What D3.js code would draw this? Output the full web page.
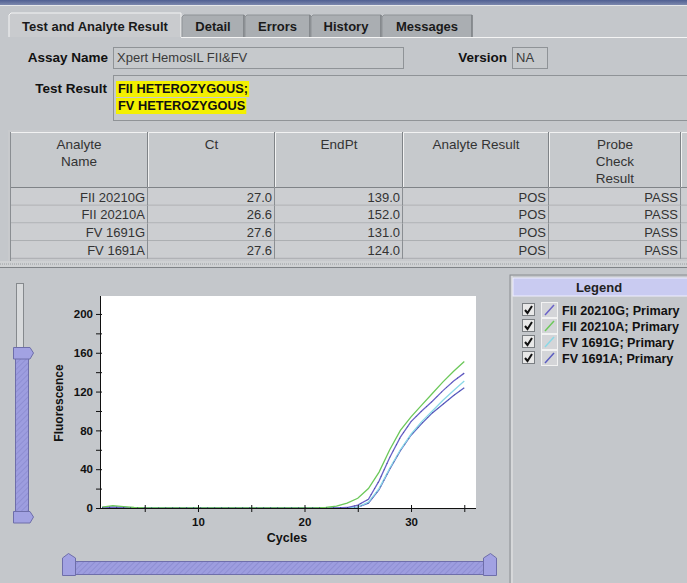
<!DOCTYPE html>
<html><head><meta charset="utf-8">
<script src="https://cdn.jsdelivr.net/npm/d3@7"></script>
<style>
body{margin:0;background:#c4c7cb;}
svg{display:block;font-family:"Liberation Sans",Arial,sans-serif;}
</style></head>
<body>
<svg id="c" width="687" height="583"></svg>
<script>
// ---------- data ----------
const tabs = ["Test and Analyte Result","Detail","Errors","History","Messages"];
const assayName = "Xpert HemosIL FII&FV";
const version = "NA";
const testResult = ["FII HETEROZYGOUS;","FV HETEROZYGOUS"];
const columns = [["Analyte","Name"],["Ct"],["EndPt"],["Analyte Result"],["Probe","Check","Result"]];
const analytes = ["FII 20210G","FII 20210A","FV 1691G","FV 1691A"];
const ctValues = ["27.0","26.6","27.6","27.6"];
const endPts = ["139.0","152.0","131.0","124.0"];
const analyteResults = ["POS","POS","POS","POS"];
const probeChecks = ["PASS","PASS","PASS","PASS"];
const legendLabels = ["FII 20210G; Primary","FII 20210A; Primary","FV 1691G; Primary","FV 1691A; Primary"];
const seriesColors = ["#6a62c8","#6cc85a","#8ad8e6","#5a5cc0"];
const cycles = d3.range(1,36);
const fii20210G = [0.5,1,0.5,0,0,-0.3,0,0,0.2,0,0,0,0,0,0,0,0,0,0,0,0,0,0,0.5,3,9,28,52,73,89,100,110,121,131,139];
const fii20210A = [1,2.5,1.5,0.5,0,0,0,0,0,0,0,0,0,0,0,0,0,0,0,0,0,0.5,2,5,10,20,37,60,80,94,106,118,130,141,151];
const fv1691G   = [0.3,0.8,0.5,0.2,0,0,0,0,0,0,0,0,0,0,0,0,0,0,0,0,0,0,0,0.3,1,6,20,41,60,76,89,100,111,121,131];
const fv1691A   = [0.2,0.5,0.3,0,0,0,-0.2,0,0,0,0,0,0,0,0,0,0,0,0,0,0,0,0,0.2,1,5,19,40,59,75,87,98,107,116,124];
const seriesData = [fii20210G, fii20210A, fv1691G, fv1691A];
const yTicks = [0,20,40,60,80,100,120,140,160,180,200];
const yLabeled = [0,40,80,120,160,200];
const xTicks = [5,10,15,20,25,30,35];
const xLabeled = [10,20,30];

// ---------- drawing ----------
const svg = d3.select("#c");
const bg = "#c4c7cb";
svg.append("rect").attr("width",687).attr("height",583).attr("fill",bg);

const defs = svg.append("defs");
const pat = defs.append("pattern").attr("id","hatch").attr("width",4).attr("height",4)
  .attr("patternUnits","userSpaceOnUse").attr("patternTransform","rotate(45)");
pat.append("rect").attr("width",4).attr("height",4).attr("fill","#9d9ddf");
pat.append("line").attr("x1",0).attr("y1",0).attr("x2",0).attr("y2",4).attr("stroke","#8a8ad0").attr("stroke-width",1.5);
const tg = defs.append("linearGradient").attr("id","topbar").attr("x1",0).attr("x2",0).attr("y1",0).attr("y2",1);
tg.append("stop").attr("offset",0).attr("stop-color","#4f5f92");
tg.append("stop").attr("offset",1).attr("stop-color","#7c88ad");

svg.append("rect").attr("x",0).attr("y",0).attr("width",687).attr("height",5).attr("fill","url(#topbar)");
svg.append("line").attr("x1",0).attr("x2",687).attr("y1",5.5).attr("y2",5.5).attr("stroke","#e6e8ea");

// tabs
const tabX = [9,182,245,311,382,473];
tabs.forEach((t,i)=>{
  const sel = i===0;
  const x0 = tabX[i], x1 = tabX[i+1]-1;
  const top = sel?13:15;
  svg.append("path").attr("d",`M${x0},37 L${x0},${top+2} L${x0+2},${top} L${x1},${top} L${x1},37`)
    .attr("fill", sel?"#c9cbce":"#aaaeb2").attr("stroke", sel?"#f4f4f4":"#8e9296");
  if(!sel) svg.append("line").attr("x1",x1).attr("x2",x1).attr("y1",top).attr("y2",37).attr("stroke","#6e7276");
  svg.append("text").attr("x",(x0+x1)/2).attr("y",31).attr("text-anchor","middle")
    .attr("font-size",13).attr("font-weight","bold").attr("fill","#1a1a1a").text(t);
});
svg.append("line").attr("x1",181).attr("x2",687).attr("y1",37.5).attr("y2",37.5).attr("stroke","#f4f4f4");

function label(x,y,t){svg.append("text").attr("x",x).attr("y",y).attr("text-anchor","end").attr("font-size",13.5).attr("font-weight","bold").attr("fill","#111").text(t);}
function field(x,y,w,h){svg.append("rect").attr("x",x+0.5).attr("y",y+0.5).attr("width",w).attr("height",h).attr("fill","#c6c9cc").attr("stroke","#8f9397");}
label(108,62,"Assay Name");
field(113,47,290,21);
svg.append("text").attr("x",117).attr("y",62).attr("font-size",13).attr("fill","#3a3a3a").text(assayName);
label(507,62,"Version");
field(512,47,35,21);
svg.append("text").attr("x",516).attr("y",62).attr("font-size",13).attr("fill","#3a3a3a").text(version);

label(107,93,"Test Result");
svg.append("rect").attr("x",113.5).attr("y",75.5).attr("width",580).attr("height",45).attr("fill","#c6c9cc").attr("stroke","#8f9397");
testResult.forEach((t,i)=>{
  const tx = svg.append("text").attr("x",118).attr("y",93+i*17).attr("font-size",12.8).attr("font-weight","bold").attr("fill","#111").text(t);
  const w = tx.node().getComputedTextLength();
  svg.insert("rect", function(){return tx.node();}).attr("x",116).attr("y",81+i*17).attr("width",w+3).attr("height",16).attr("fill","#f3f000");
});

// Table
const colX = [10,148,275,403,549,681,700];
const headerTop = 132, headerBot = 188, rowH = 17.7;
svg.append("rect").attr("x",8).attr("y",130).attr("width",690).attr("height",133).attr("fill","#c8cacd");
for(let c=0;c<6;c++){
  const x0=colX[c], x1=colX[c+1];
  svg.append("rect").attr("x",x0).attr("y",headerTop).attr("width",x1-x0).attr("height",headerBot-headerTop).attr("fill","#c6c9cc");
  svg.append("path").attr("d",`M${x0+0.5},${headerBot} L${x0+0.5},${headerTop+0.5} L${x1-1},${headerTop+0.5}`).attr("fill","none").attr("stroke","#f2f2f2");
  svg.append("path").attr("d",`M${x1-0.5},${headerTop} L${x1-0.5},${headerBot-0.5} L${x0},${headerBot-0.5}`).attr("fill","none").attr("stroke","#7f8387");
  if(columns[c]) columns[c].forEach((l,k)=>{
    svg.append("text").attr("x",(x0+x1)/2).attr("y",headerTop+17+k*17).attr("text-anchor","middle")
      .attr("font-size",13.5).attr("fill","#333").text(l);
  });
}
const rowVals = [analytes, ctValues, endPts, analyteResults, probeChecks];
analytes.forEach((a,r)=>{
  const y0 = headerBot + r*rowH;
  svg.append("rect").attr("x",10).attr("y",y0).attr("width",680).attr("height",rowH).attr("fill","#ccced1");
  svg.append("line").attr("x1",10).attr("x2",690).attr("y1",y0+rowH-0.5).attr("y2",y0+rowH-0.5).attr("stroke","#a9acaf");
  for(let c=0;c<5;c++){
    svg.append("line").attr("x1",colX[c+1]-0.5).attr("x2",colX[c+1]-0.5).attr("y1",y0).attr("y2",y0+rowH).attr("stroke","#8a8e92");
    svg.append("text").attr("x",colX[c+1]-3).attr("y",y0+13.5).attr("text-anchor","end")
      .attr("font-size",13).attr("fill","#333").text(rowVals[c][r]);
  }
});
svg.append("line").attr("x1",10.5).attr("x2",10.5).attr("y1",headerTop).attr("y2",262).attr("stroke","#8a8e92");
svg.append("rect").attr("x",0).attr("y",261).attr("width",687).attr("height",7).attr("fill","#cfd1d3");
svg.append("line").attr("x1",0).attr("x2",687).attr("y1",264).attr("y2",264).attr("stroke","#9a9ea2").attr("stroke-dasharray","1,1");
svg.append("line").attr("x1",0).attr("x2",687).attr("y1",267.5).attr("y2",267.5).attr("stroke","#7e8286");

// Legend panel
svg.append("rect").attr("x",510).attr("y",275).attr("width",180).attr("height",310).attr("fill","#c4c7cb").attr("stroke","#8a8e92");
svg.append("line").attr("x1",512).attr("x2",512).attr("y1",276).attr("y2",583).attr("stroke","#e8e8e8");
svg.append("rect").attr("x",513).attr("y",278).attr("width",176).attr("height",18).attr("fill","#c9cbf1").attr("stroke","#eeeeff");
svg.append("text").attr("x",599).attr("y",292).attr("text-anchor","middle").attr("font-size",13).attr("font-weight","bold").attr("fill","#222").text("Legend");
legendLabels.forEach((l,i)=>{
  const cy = 310 + i*16;
  svg.append("rect").attr("x",522.5).attr("y",cy-6.5).attr("width",12).attr("height",12).attr("fill","#e8e8e8").attr("stroke","#7a7e82");
  svg.append("path").attr("d",`M${525},${cy} L${527.5},${cy+3} L${532},${cy-4}`).attr("fill","none").attr("stroke","#111").attr("stroke-width",2);
  svg.append("rect").attr("x",541.5).attr("y",cy-7.5).attr("width",16).attr("height",15).attr("fill","#d4d5d8").attr("stroke","#f2f2f2");
  svg.append("line").attr("x1",545).attr("y1",cy+5).attr("x2",554).attr("y2",cy-5).attr("stroke",seriesColors[i]).attr("stroke-width",1.5);
  svg.append("text").attr("x",562).attr("y",cy+5).attr("font-size",12.6).attr("font-weight","bold").attr("fill","#111").text(l);
});

// vertical slider
svg.append("rect").attr("x",16.5).attr("y",283.5).attr("width",7).attr("height",64).attr("fill","#d8dadc").attr("stroke","#85898d");
svg.append("rect").attr("x",15.5).attr("y",358.5).attr("width",13).attr("height",153).attr("fill","url(#hatch)").attr("stroke","#6e6eaa");
svg.append("path").attr("d","M13.5,347.5 L30,347.5 L33.5,353 L30,359 L13.5,359 Z").attr("fill","#a2a2e2").attr("stroke","#6e6eaa");
svg.append("path").attr("d","M13.5,511.5 L30,511.5 L33.5,517 L30,523 L13.5,523 Z").attr("fill","#a2a2e2").attr("stroke","#6e6eaa");

// horizontal slider
svg.append("rect").attr("x",74.5).attr("y",561.5).attr("width",410).attr("height",13).attr("fill","url(#hatch)").attr("stroke","#6e6eaa");
svg.append("path").attr("d","M62.5,575.5 L62.5,558 L68.5,553.5 L75.5,558 L75.5,575.5 Z").attr("fill","#a2a2e2").attr("stroke","#6e6eaa");
svg.append("path").attr("d","M483.5,575.5 L483.5,558 L490.5,553.5 L496.5,558 L496.5,575.5 Z").attr("fill","#a2a2e2").attr("stroke","#6e6eaa");

// chart
const x = d3.scaleLinear().domain([0.8,36.1]).range([100,476]);
const y = d3.scaleLinear().domain([0,218.5]).range([508,296]);
svg.append("rect").attr("x",100).attr("y",296).attr("width",376).attr("height",212).attr("fill","#ffffff");

const line = d3.line().x((d,i)=>x(cycles[i])).y(d=>y(d));
[3,2,0,1].forEach(s=>{
  svg.append("path").datum(seriesData[s]).attr("d",line).attr("fill","none")
    .attr("stroke",seriesColors[s]).attr("stroke-width",1.3);
});
[0,3].forEach(s=>{
  svg.append("path").datum(seriesData[s]).attr("d",line).attr("fill","none")
    .attr("stroke","#2a2e80").attr("stroke-width",1).attr("stroke-dasharray","1,6").attr("opacity",0.6);
});

const yAxis = svg.append("g").attr("transform","translate(100,0)")
  .call(d3.axisLeft(y).tickValues(yTicks).tickSize(4).tickPadding(3)
    .tickFormat(d=>yLabeled.includes(d)?d:""));
const xAxis = svg.append("g").attr("transform","translate(0,508)")
  .call(d3.axisBottom(x).tickValues(xTicks).tickSize(4).tickPadding(6)
    .tickFormat(d=>xLabeled.includes(d)?d:""));
[yAxis,xAxis].forEach(a=>{
  a.select(".domain").remove();
  a.selectAll("text").attr("font-family","Liberation Sans, Arial, sans-serif").attr("font-size",11.5).attr("font-weight","bold").attr("fill","#111");
  a.selectAll("line").attr("stroke","#111");
});
yAxis.selectAll(".tick line").attr("x1",-4).attr("x2",2);
xAxis.selectAll(".tick line").attr("y1",-3).attr("y2",4);
svg.append("line").attr("x1",100.5).attr("x2",100.5).attr("y1",296).attr("y2",508).attr("stroke","#111");
svg.append("line").attr("x1",100).attr("x2",476).attr("y1",508.5).attr("y2",508.5).attr("stroke","#111");

svg.append("text").attr("x",287).attr("y",542).attr("text-anchor","middle").attr("font-size",12.5).attr("font-weight","bold").attr("fill","#111").text("Cycles");
svg.append("text").attr("transform","translate(63,403) rotate(-90)").attr("text-anchor","middle").attr("font-size",12).attr("font-weight","bold").attr("fill","#111").text("Fluorescence");
</script>
</body></html>
